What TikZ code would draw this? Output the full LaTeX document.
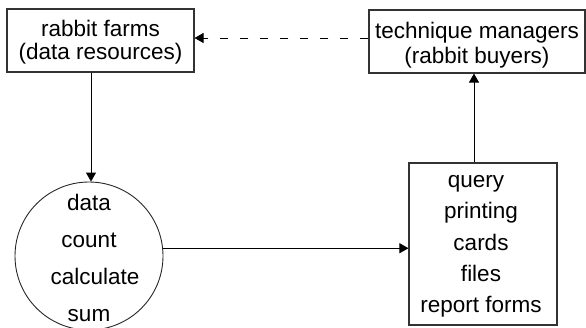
\documentclass[tikz,border=0pt]{standalone}
\usepackage{fontspec}
\setmainfont{Liberation Sans}
\usetikzlibrary{arrows.meta,calc}
\begin{document}
\begin{tikzpicture}[x=1pt,y=-1pt,
  box/.style={draw=black!80,line width=1.1pt,rectangle,inner sep=0pt},
  txt/.style={inner sep=0pt,align=center},
  conn/.style={line width=0.9pt,-{Triangle[length=9pt,width=10pt]}},
  dashconn/.style={conn,dash pattern=on 8pt off 12pt}]
\useasboundingbox (0,0) rectangle (586,327);
\node[box,minimum width=187pt,minimum height=63pt] (farms) at (100.5,40.5) {};
\node[txt,font=\fontsize{22.5}{23}\selectfont] (farmstxt) at (100.5,42)
  {rabbit farms\\(data resources)};
\node[box,minimum width=216pt,minimum height=63pt] (mgr) at (477,41.5) {};
\node[txt,font=\fontsize{22.5}{24.5}\selectfont] (mgrtxt) at (477,45)
  {technique managers\\(rabbit buyers)};
\node[draw=black!85,line width=0.9pt,circle,minimum size=148pt,inner sep=0pt] (circ) at (89,256) {};
\node[txt,font=\fontsize{22.5}{36.7}\selectfont] (circtxt) at (89,258) {data\\count\\\hspace*{12pt}calculate\\sum};
\node[box,minimum width=148pt,minimum height=162pt] (out) at (483,244) {};
\node[txt,font=\fontsize{22.5}{31.3}\selectfont] (outtxt) at (481,246.5)
  {query\hspace*{10pt}\\printing\hspace*{2pt}\\cards\\files\\report forms};
\coordinate (dl) at (0,38);
\coordinate (vl) at (91,0);
\coordinate (vr) at (474,0);
\draw[dashconn] (mgr.west |- dl) -- (farms.east |- dl);
\draw[conn] (farms.south -| vl) -- (circ.north -| vl);
\draw[conn] (circ.6) -- (circ.6 -| out.west);
\draw[conn] (out.north -| vr) -- (mgr.south -| vr);
\end{tikzpicture}
\end{document}
